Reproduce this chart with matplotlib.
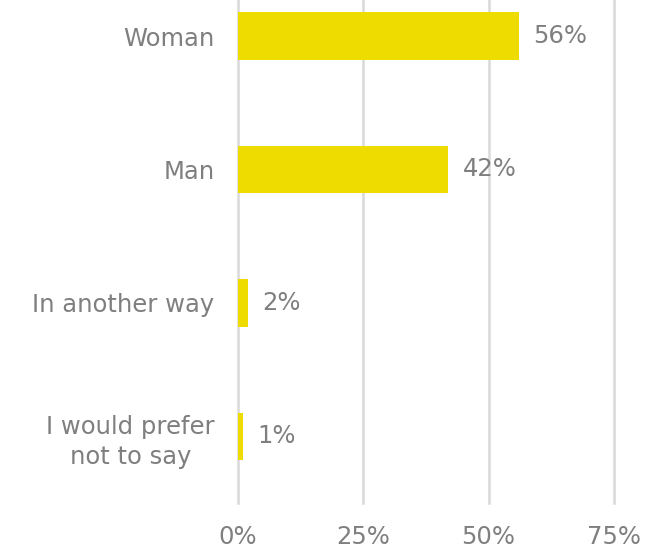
import matplotlib
matplotlib.use("Agg")
import matplotlib.pyplot as plt
from matplotlib.ticker import FuncFormatter

categories = ["Woman", "Man", "In another way", "I would prefer\nnot to say"]
shares = [56, 42, 2, 1]
x_ticks = [0, 25, 50, 75]

bar_color = "#EEDC00"
text_color = "#7F7F7F"
grid_color = "#D9D9D9"

plt.rcParams["font.family"] = "DejaVu Sans"
fs = 17.5

fig = plt.figure(figsize=(6.63, 5.5), dpi=100)
# axes run a bit above the top edge so the first bar sits near the border
ax = fig.add_axes([237.5 / 663, 47 / 550, 376.5 / 663, 533.7 / 550])

y = list(range(len(categories)))
ax.barh(y, shares, height=0.355, color=bar_color, zorder=3)

for yi, v in zip(y, shares):
    ax.annotate(f"{v}%", (v, yi), xytext=(10.5, 0), textcoords="offset points",
                va="center", ha="left", fontsize=fs, color=text_color)

ax.set_xlim(0, 75)
ax.set_ylim(len(categories) - 0.5, -0.5)
ax.set_xticks(x_ticks)
ax.xaxis.set_major_formatter(FuncFormatter(lambda v, _: f"{v:.0f}%"))
ax.set_yticks(y)
ax.set_yticklabels(categories, multialignment="center", linespacing=1.35)

ax.grid(axis="x", color=grid_color, linewidth=1.8, zorder=0)
# keep the outer gridlines full width at the axes edges
for gl in ax.get_xgridlines():
    gl.set_clip_on(False)
for s in ax.spines.values():
    s.set_visible(False)
ax.tick_params(axis="both", length=0, labelsize=fs, labelcolor=text_color)
ax.tick_params(axis="y", pad=16.5)
ax.tick_params(axis="x", pad=15.5)

fig.savefig("out.png", dpi=100)
